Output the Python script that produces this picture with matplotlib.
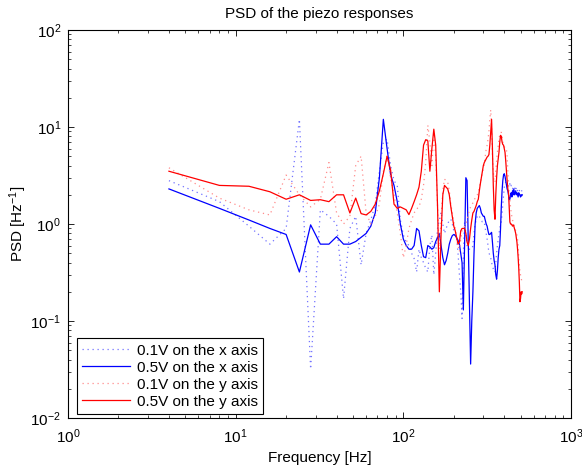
import numpy as np
import matplotlib
matplotlib.use("Agg")
import matplotlib.pyplot as plt

plt.rcParams['font.family'] = ['Liberation Sans', 'DejaVu Sans']
plt.rcParams['mathtext.fontset'] = 'custom'
plt.rcParams['mathtext.rm'] = 'Liberation Sans'
plt.rcParams['mathtext.it'] = 'Liberation Sans:italic'
plt.rcParams['mathtext.default'] = 'regular'

# Frequency grid [Hz] (4 Hz resolution)
freq = np.arange(4, 513, 4)

# 0.1V on the x axis
psd_x_01 = [
    2.8, 1.7, 0.95, 0.62, 0.9, 12.0, 0.032, 1.4, 1.2, 1.0, 0.17, 0.9, 1.2, 0.38, 0.8, 1.1,
    1.6, 3.5, 7.0, 7.5, 4.0, 2.8, 2.5, 1.1, 0.77, 0.65, 0.6, 0.5, 0.44, 0.32, 0.55, 0.45,
    0.4, 0.35, 0.32, 0.6, 0.77, 0.3, 0.5, 0.9, 1.1, 1.33, 1.0, 0.8, 0.9, 1.0, 1.1, 1.12,
    1.0, 0.85, 0.75, 0.7, 0.5, 0.3, 0.2, 0.106, 0.5, 1.05, 0.8, 0.6, 0.55, 0.55, 0.55, 0.55,
    0.6, 0.8, 1.0, 1.1, 1.2, 1.24, 1.2, 1.15, 1.1, 1.05, 1.05, 1.05, 0.9, 0.8, 0.7, 0.6,
    0.5, 0.48, 0.45, 0.4, 0.37, 0.34, 0.32, 0.32, 0.4, 0.5, 0.6, 0.7, 0.8, 0.9, 1.0, 1.05,
    1.3, 1.6, 2.0, 2.4, 2.6, 2.7, 2.7, 2.6, 2.5, 2.4, 2.5, 2.6, 2.4, 2.5, 2.5, 2.3,
    2.4, 2.2, 2.4, 2.3, 2.2, 2.4, 2.3, 2.2, 2.3, 2.3, 2.2, 2.3, 2.2, 2.2, 2.2, 2.2,
]

# 0.5V on the x axis
psd_x_05 = [
    2.3, 1.45, 1.1, 0.9, 0.78, 0.32, 0.98, 0.62, 0.62, 0.74, 0.62, 0.62, 0.66, 0.73, 0.8, 0.95,
    1.3, 3.0, 12.0, 6.0, 3.2, 2.5, 1.7, 1.0, 0.7, 0.6, 0.55, 0.55, 0.6, 0.9, 0.85, 0.6,
    0.46, 0.45, 0.6, 0.58, 0.55, 0.57, 0.66, 0.72, 0.8, 0.6, 0.45, 0.38, 0.42, 0.5, 0.62, 0.7,
    0.76, 0.78, 0.76, 0.72, 0.68, 0.62, 0.5, 0.4, 0.13, 0.6, 3.0, 2.8, 0.6, 0.15, 0.036, 0.1,
    0.2, 0.5, 1.0, 1.3, 1.45, 1.5, 1.55, 1.45, 1.3, 1.25, 1.2, 1.2, 1.1, 1.0, 0.95, 0.85,
    0.78, 0.78, 0.8, 0.82, 0.65, 0.5, 0.42, 0.38, 0.3, 0.27, 0.33, 0.45, 0.55, 0.6, 0.9, 1.5,
    2.2, 2.8, 3.2, 3.3, 3.1, 2.8, 2.5, 2.3, 2.2, 2.0, 1.8, 1.8, 2.0, 2.1, 1.9, 2.2,
    2.0, 2.3, 2.0, 2.1, 2.2, 2.0, 2.1, 2.0, 1.9, 2.1, 2.0, 2.0, 1.9, 2.0, 1.95, 2.0,
]

# 0.1V on the y axis
psd_y_01 = [
    3.8, 1.85, 1.4, 1.24, 3.2, 2.0, 1.5, 1.8, 4.3, 1.3, 1.0, 1.2, 4.0, 5.0, 1.3, 1.0,
    1.2, 1.6, 3.5, 5.0, 3.0, 2.0, 1.3, 0.8, 0.45, 0.6, 0.9, 1.1, 1.3, 1.43, 1.5, 1.8,
    2.5, 4.3, 10.4, 7.0, 4.0, 8.2, 5.0, 1.5, 0.55, 1.2, 2.2, 2.9, 2.8, 2.7, 2.2, 1.6,
    1.3, 1.05, 0.9, 0.7, 0.6, 0.52, 0.7, 0.85, 0.89, 0.95, 0.98, 1.1, 1.25, 1.4, 1.5, 1.57,
    1.65, 1.75, 1.85, 1.95, 2.0, 2.1, 2.4, 2.7, 3.0, 3.4, 3.7, 4.2, 5.0, 5.9, 6.5, 7.5,
    9.0, 12.0, 15.0, 10.0, 5.0, 3.5, 2.7, 2.7, 3.5, 4.5, 5.5, 6.5, 7.5, 8.3, 8.8, 8.8,
    8.0, 7.0, 6.5, 6.3, 6.0, 5.9, 5.9, 5.0, 3.5, 2.7, 2.1, 1.8, 1.5, 1.3, 1.2, 1.1,
    1.05, 1.0, 0.95, 0.9, 0.85, 0.8, 0.77, 0.7, 0.6, 0.45, 0.38, 0.32, 0.3, 0.28, 0.26, 0.25,
]

# 0.5V on the y axis
psd_y_05 = [
    3.5, 2.5, 2.45, 2.15, 1.8, 2.0, 1.75, 1.78, 1.7, 2.0, 2.0, 1.3, 1.85, 1.28, 1.24, 1.35,
    1.6, 2.2, 3.3, 5.0, 3.6, 1.6, 1.45, 1.5, 1.45, 1.4, 1.25, 1.45, 1.7, 2.0, 2.4, 3.5,
    6.5, 7.4, 7.2, 3.5, 6.0, 9.5, 6.5, 1.5, 0.2, 0.8, 2.0, 2.5, 2.4, 2.3, 2.0, 1.5,
    1.2, 0.95, 0.85, 0.72, 0.62, 0.65, 0.85, 0.9, 0.9, 0.9, 0.8, 0.65, 0.6, 0.7, 0.9, 1.1,
    1.3, 1.35, 1.45, 1.55, 1.7, 1.8, 2.2, 2.6, 3.0, 3.5, 4.0, 4.3, 4.5, 4.7, 4.9, 5.0,
    5.2, 6.5, 9.0, 12.0, 6.0, 2.5, 1.4, 1.12, 2.0, 3.0, 4.0, 4.7, 5.5, 7.0, 8.2, 8.0,
    7.0, 6.6, 6.5, 6.0, 5.5, 4.5, 3.5, 2.8, 2.3, 2.1, 1.5, 1.05, 1.0, 1.0, 0.98, 0.95,
    0.98, 0.95, 0.9, 0.85, 0.8, 0.72, 0.65, 0.55, 0.45, 0.35, 0.25, 0.158, 0.17, 0.2, 0.19, 0.2,
]

labels = ["0.1V on the x axis", "0.5V on the x axis",
          "0.1V on the y axis", "0.5V on the y axis"]

fig = plt.figure(figsize=(5.82, 4.71), dpi=100)
ax = fig.add_axes([0.1168, 0.1125, 0.8643, 0.8238])

dot = (0, (1, 3))
ax.loglog(freq, psd_x_01, color=(0.45, 0.45, 1.0), linestyle=dot, lw=0.9, label=labels[0])
ax.loglog(freq, psd_x_05, color='blue', linestyle='-', lw=0.9, label=labels[1])
ax.loglog(freq, psd_y_01, color=(1.0, 0.55, 0.55), linestyle=dot, lw=0.9, label=labels[2])
ax.loglog(freq, psd_y_05, color='red', linestyle='-', lw=0.9, label=labels[3])

ax.set_xlim(1, 1000)
ax.set_ylim(1e-2, 1e2)
ax.tick_params(which='both', direction='in', top=True, right=True, labelsize=11)
ax.tick_params(axis='x', which='major', pad=7)
ax.tick_params(axis='y', which='major', pad=5)
ax.tick_params(which='major', length=4.5, width=0.6)
ax.tick_params(which='minor', length=2.5, width=0.5)
for s in ax.spines.values():
    s.set_linewidth(0.8)

ax.set_xlabel("Frequency [Hz]", fontsize=11, labelpad=3)
ax.set_ylabel("PSD [Hz$^{-1}$]", fontsize=11, labelpad=1)
ax.set_title("PSD of the piezo responses", fontsize=11, pad=9)

leg = ax.legend(loc='lower left', bbox_to_anchor=(0.018, 0.01), borderaxespad=0,
                fontsize=11, frameon=True, fancybox=False, edgecolor='black',
                framealpha=1, handlelength=3.1, handletextpad=0.45,
                labelspacing=0.2, borderpad=0.35)
leg.get_frame().set_linewidth(0.8)

fig.savefig("out.png", dpi=100)
